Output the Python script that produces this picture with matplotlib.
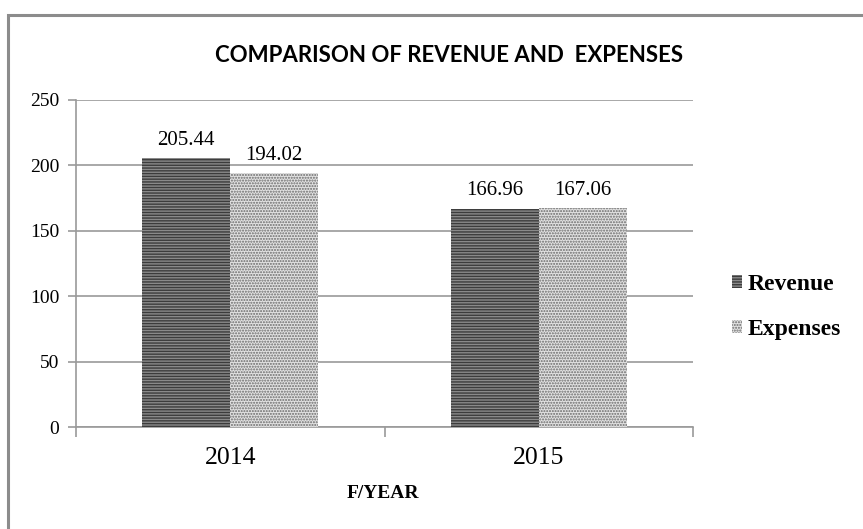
import numpy as np
import matplotlib
matplotlib.use("Agg")
import matplotlib.pyplot as plt
from matplotlib.patches import Rectangle

years = ["2014", "2015"]
revenue = [205.44, 166.96]
expenses = [194.02, 167.06]
yticks = [0, 50, 100, 150, 200, 250]

plt.rcParams["hatch.linewidth"] = 1.0

fig = plt.figure(figsize=(8.63, 5.29), dpi=100)
# outer frame of the chart object
fig.patches.append(Rectangle((8 / 863, -0.05), 1.0, (529 - 15) / 529 + 0.05,
                             transform=fig.transFigure, fill=False,
                             edgecolor="#8c8c8c", lw=2.2))

ax = fig.add_axes([76 / 863, 1 - 427 / 529, (693 - 76) / 863, (427 - 100) / 529])

x = np.arange(len(years))
w = 0.285
b1 = ax.bar(x - w / 2, revenue, w, color="#8a8a8a", edgecolor="#3c3c3c",
            hatch="------", lw=0, label="Revenue", zorder=3)
b2 = ax.bar(x + w / 2, expenses, w, color="#e2e2e2", edgecolor="#6a6a6a",
            hatch="......", lw=0, label="Expenses", zorder=3)

for bars, vals in ((b1, revenue), (b2, expenses)):
    for r, v in zip(bars, vals):
        ax.text(r.get_x() + r.get_width() / 2, v + 6.5, f"{v:.2f}",
                ha="center", va="bottom", fontsize=15,
                family="Liberation Serif")

ax.set_xlim(-0.5, 1.5)
ax.set_ylim(0, 250)
ax.set_yticks(yticks)
ax.set_yticklabels([str(t) for t in yticks], family="Liberation Serif", fontsize=14)
ax.yaxis.grid(True, color="#9a9a9a", lw=1.2, zorder=0)
ax.set_axisbelow(True)

ax.set_xticks([-0.5, 0.5, 1.5])
ax.set_xticklabels([])
ax.tick_params(axis="x", length=7, color="#9a9a9a", width=1.2)
ax.tick_params(axis="y", length=6, color="#9a9a9a", width=1.2, pad=6)
for i, yr in enumerate(years):
    ax.text(x[i], -24, yr, ha="center", va="center", fontsize=18.5,
            family="Liberation Serif", transform=ax.transData)

for s in ["top", "right"]:
    ax.spines[s].set_visible(False)
for s in ["left", "bottom"]:
    ax.spines[s].set_color("#9a9a9a")
    ax.spines[s].set_linewidth(1.2)

fig.text(383 / 863, 1 - 493 / 529, "F/YEAR", ha="center", va="center",
         fontsize=14, fontweight="bold", family="Liberation Serif")
fig.text(449 / 863, 1 - 55 / 529, "COMPARISON OF REVENUE AND  EXPENSES",
         ha="center", va="center", fontsize=16, fontweight="bold", family="Lato")

leg = fig.legend(handles=[b1, b2], loc="center left",
                 bbox_to_anchor=(720 / 863, 1 - 307 / 529), frameon=False,
                 prop={"family": "Liberation Serif", "weight": "bold", "size": 17},
                 handlelength=0.45, handleheight=0.45, handletextpad=0.2,
                 labelspacing=1.0, borderpad=0)

fig.savefig("out.png", dpi=100)
